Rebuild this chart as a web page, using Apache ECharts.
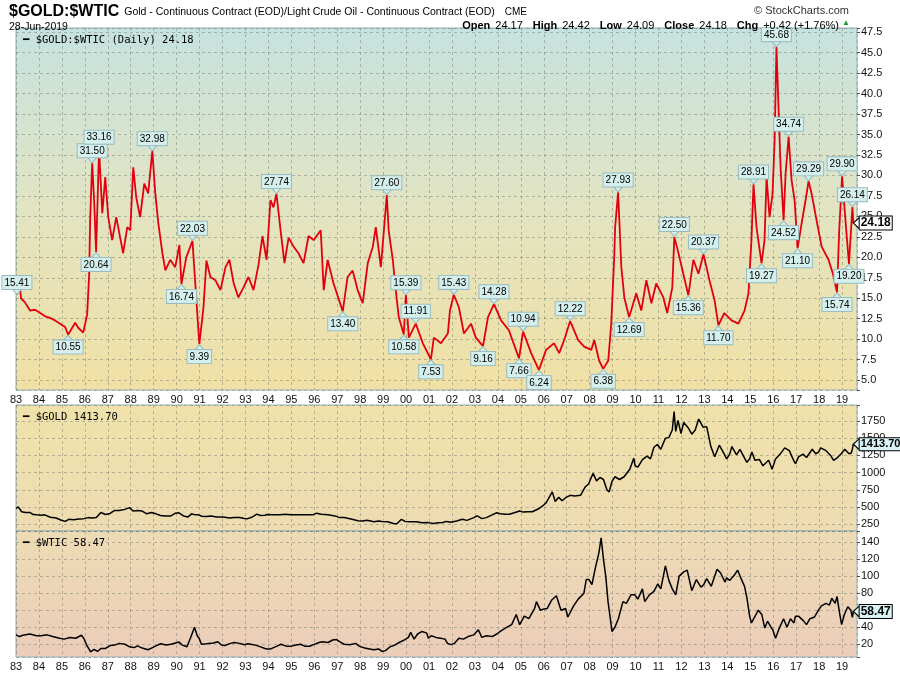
<!DOCTYPE html>
<html>
<head>
<meta charset="utf-8">
<title>$GOLD:$WTIC</title>
<script src="https://cdn.jsdelivr.net/npm/echarts@6/dist/echarts.min.js"></script>
<style>
  html, body { margin: 0; padding: 0; background: #fff; }
  #chart { width: 900px; height: 673px; }
</style>
</head>
<body>
<div id="chart"></div>
<script>
  // gold / crude ratio (decimal years)
  var ratioT = [
    1983.04,1983.13,1983.22,1983.39,1983.61,1983.83,1984.05,1984.27,1984.48,1984.70,1984.92,1985.14,1985.27,1985.45,1985.58,1985.71,1985.93,
    1986.10,1986.19,1986.23,1986.32,1986.41,1986.49,1986.62,1986.76,1986.89,1987.02,1987.19,1987.37,1987.54,1987.67,1987.85,1987.98,
    1988.11,1988.24,1988.41,1988.59,1988.76,1988.94,1989.07,1989.20,1989.38,1989.51,1989.72,1989.94,
    1990.12,1990.21,1990.42,1990.69,1990.86,1990.99,1991.17,1991.30,1991.47,1991.69,1991.91,
    1992.13,1992.30,1992.48,1992.69,1992.91,1993.13,1993.35,1993.57,1993.74,1993.92,
    1994.09,1994.22,1994.35,1994.53,1994.70,1994.88,1995.10,1995.31,1995.53,1995.75,1995.97,
    1996.28,1996.41,1996.58,1996.84,1997.24,1997.45,1997.67,1997.89,1998.11,1998.33,1998.55,1998.68,1998.90,
    1999.16,1999.24,1999.42,1999.55,1999.68,1999.90,1999.99,2000.12,2000.42,2000.73,2001.08,2001.21,2001.52,2001.82,2001.91,
    2002.08,2002.30,2002.52,2002.83,2003.04,2003.35,2003.57,2003.83,2004.14,2004.48,2004.92,2005.10,2005.45,2005.79,
    2006.10,2006.45,2006.67,2006.89,2007.15,2007.50,2007.76,2008.07,2008.20,2008.41,2008.59,2008.81,2008.94,
    2009.07,2009.11,2009.24,2009.38,2009.51,2009.72,2010.03,2010.25,2010.47,2010.69,2010.90,2011.21,2011.38,2011.60,2011.69,2011.87,
    2012.08,2012.30,2012.52,2012.74,2012.96,2013.22,2013.44,2013.61,2013.87,2014.18,2014.48,2014.75,2014.92,
    2015.05,2015.14,2015.27,2015.49,2015.62,2015.71,2015.84,2015.97,2016.06,2016.14,2016.23,2016.32,2016.45,2016.54,2016.67,2016.80,2016.93,
    2017.06,2017.24,2017.41,2017.54,2017.67,2017.89,2018.11,2018.41,2018.60,2018.78,2018.87,2019.00,2019.17,2019.30,2019.45,2019.49
  ];
  var ratio = [
    15.41,17.5,15.0,14.5,13.5,13.6,13.2,12.8,12.6,12.3,11.9,11.5,10.55,11.4,12.0,11.4,10.8,
    13.0,18.0,24.5,31.5,26.6,20.64,33.16,25.4,29.8,24.9,22.1,24.9,22.4,20.5,23.7,23.3,
    31.0,27.3,24.9,29.0,27.8,32.98,27.8,24.2,20.5,18.4,19.7,18.8,
    21.5,16.74,20.0,22.03,14.8,9.39,13.9,19.6,17.6,17.2,16.0,
    18.8,19.7,16.9,15.1,16.3,17.6,16.0,19.1,22.6,19.7,
    27.0,26.1,27.74,23.3,19.3,22.4,21.3,20.5,19.3,22.6,22.1,
    23.3,16.0,19.7,16.8,13.4,17.6,18.4,16.0,14.4,19.3,21.3,23.7,18.8,
    27.6,23.3,19.7,16.0,12.7,10.58,15.39,10.2,11.91,9.5,7.53,10.2,9.5,10.7,13.5,
    15.43,13.9,10.7,11.9,10.2,9.16,12.7,14.28,12.3,11.1,7.66,10.94,8.3,6.24,
    8.7,9.5,8.3,9.9,12.22,9.9,9.1,8.7,9.9,7.4,6.38,7.4,11.9,
    20.0,23.7,27.93,18.8,15.1,12.69,15.6,13.5,17.2,14.4,16.8,15.1,13.2,16.3,22.5,20.5,
    18.0,15.36,19.7,18.0,20.37,17.2,14.8,11.7,13.2,12.3,11.9,13.5,15.6,
    22.1,28.91,23.7,19.27,22.1,29.8,24.9,27.8,34.3,45.68,38.3,31.0,24.52,30.3,34.74,29.4,27.0,
    21.1,24.2,27.0,29.29,27.8,24.5,21.3,19.7,18.0,15.74,23.0,29.9,23.7,19.2,26.14,24.18
  ];
  // annotated turning points (label above / below the line)
  var highNotes = [15.41, 31.5, 33.16, 32.98, 22.03, 27.74, 27.6, 15.39, 11.91, 15.43, 14.28, 10.94,
                   12.22, 27.93, 22.5, 20.37, 28.91, 45.68, 34.74, 29.29, 29.9, 26.14];
  var lowNotes = [10.55, 20.64, 16.74, 9.39, 13.4, 10.58, 7.53, 9.16, 7.66, 6.24, 6.38, 12.69,
                  15.36, 11.7, 19.27, 24.52, 21.1, 15.74, 19.2];

  var goldT = [1983.0,1983.1,1983.25,1983.4,1983.6,1983.75,1983.9, 1984.1,1984.25,1984.5,1984.75,1984.95,
    1985.15,1985.3,1985.5,1985.75,1985.95, 1986.15,1986.3,1986.5,1986.7,1986.9, 1987.1,1987.3,1987.5,1987.75,1987.95,
    1988.1,1988.3,1988.5,1988.7,1988.9, 1989.1,1989.3,1989.5,1989.75,1989.95, 1990.1,1990.3,1990.5,1990.65,1990.8,1990.95,
    1991.1,1991.3,1991.5,1991.75,1991.95, 1992.1,1992.3,1992.5,1992.75,1992.95, 1993.1,1993.3,1993.5,1993.65,1993.85,1993.95,
    1994.2,1994.5,1994.75,1994.95, 1995.2,1995.5,1995.75,1995.95, 1996.1,1996.3,1996.6,1996.9, 1997.1,1997.3,1997.6,1997.9,
    1998.1,1998.3,1998.6,1998.8,1998.95, 1999.2,1999.45,1999.6,1999.8,1999.95, 2000.2,2000.45,2000.7,2000.95,
    2001.2,2001.4,2001.6,2001.75,2001.95, 2002.2,2002.45,2002.65,2002.95, 2003.1,2003.3,2003.5,2003.75,2003.95,
    2004.1,2004.3,2004.5,2004.75,2004.95, 2005.1,2005.3,2005.5,2005.75,2005.95, 2006.1,2006.37,2006.5,2006.65,2006.8,2006.95,
    2007.15,2007.35,2007.6,2007.8,2007.95, 2008.15,2008.3,2008.45,2008.6,2008.75,2008.85,2008.97,
    2009.1,2009.3,2009.5,2009.75,2009.92,2009.98, 2010.1,2010.3,2010.5,2010.65,2010.8,2010.95,
    2011.1,2011.3,2011.45,2011.6,2011.68,2011.75,2011.85,2011.98, 2012.1,2012.3,2012.45,2012.6,2012.75,2012.95,
    2013.1,2013.28,2013.45,2013.5,2013.65,2013.8,2013.97, 2014.1,2014.2,2014.4,2014.55,2014.75,2014.85,2014.97,
    2015.07,2015.2,2015.4,2015.55,2015.8,2015.95, 2016.1,2016.3,2016.5,2016.7,2016.9,2016.97,
    2017.1,2017.3,2017.45,2017.7,2017.85,2017.97, 2018.07,2018.3,2018.5,2018.63,2018.8,2018.97,
    2019.12,2019.3,2019.4,2019.45,2019.49];
  var gold = [480,500,430,420,420,390,385, 380,385,350,340,310,
    290,320,315,325,330, 345,340,345,420,390, 405,450,450,465,490,
    440,450,440,400,420, 400,375,370,370,410, 415,370,355,400,385,385,
    365,360,370,355,355, 350,340,345,345,333, 330,355,395,375,380,390,
    385,385,395,385, 385,387,385,388, 410,395,385,370, 345,345,325,300,
    295,305,285,295,288, 285,260,255,320,290, 285,285,270,272,
    260,270,275,290,278, 295,320,305,345, 370,330,345,385,415,
    400,395,395,420,440, 425,430,430,470,515, 560,720,580,640,590,635,
    670,660,670,790,835, 990,880,930,900,750,720,870,
    940,900,940,1050,1210,1100, 1080,1190,1240,1200,1370,1410,
    1340,1500,1510,1620,1890,1600,1760,1570, 1730,1650,1560,1620,1780,1660,
    1670,1380,1230,1210,1400,1310,1200, 1270,1380,1260,1340,1210,1150,1200,
    1300,1180,1190,1100,1180,1050, 1200,1270,1360,1320,1170,1130,
    1230,1270,1220,1340,1275,1300, 1360,1320,1250,1180,1220,1280,
    1340,1275,1285,1345,1413.7];

  var oilT = [1983.0,1983.15,1983.3,1983.6,1983.9, 1984.1,1984.35,1984.6,1984.9, 1985.1,1985.35,1985.6,1985.85,1985.95,
    1986.1,1986.25,1986.4,1986.55,1986.7,1986.9, 1987.1,1987.3,1987.5,1987.75,1987.95, 1988.15,1988.3,1988.5,1988.75,1988.95,
    1989.1,1989.3,1989.55,1989.75,1989.95, 1990.1,1990.25,1990.45,1990.6,1990.78,1990.9,1990.98,
    1991.08,1991.3,1991.6,1991.8,1991.95, 1992.1,1992.35,1992.5,1992.75,1992.95, 1993.1,1993.35,1993.6,1993.85,1993.95,
    1994.1,1994.35,1994.55,1994.8,1994.95, 1995.2,1995.4,1995.6,1995.8,1995.97, 1996.2,1996.35,1996.6,1996.8,1996.97,
    1997.1,1997.3,1997.55,1997.8,1997.97, 1998.2,1998.4,1998.6,1998.8,1998.95, 1999.1,1999.3,1999.5,1999.7,1999.95,
    2000.1,2000.2,2000.35,2000.5,2000.7,2000.9,2000.97, 2001.1,2001.3,2001.5,2001.7,2001.8,2001.95,
    2002.1,2002.3,2002.5,2002.7,2002.95, 2003.15,2003.3,2003.5,2003.75,2003.95, 2004.15,2004.4,2004.6,2004.8,2004.95,
    2005.15,2005.35,2005.6,2005.68,2005.85,2005.97, 2006.15,2006.35,2006.55,2006.75,2006.95,
    2007.05,2007.3,2007.5,2007.75,2007.85,2007.97, 2008.1,2008.25,2008.4,2008.5,2008.6,2008.7,2008.8,2008.9,2008.97,
    2009.1,2009.25,2009.45,2009.6,2009.8,2009.97, 2010.1,2010.3,2010.4,2010.6,2010.8,2010.97,
    2011.1,2011.3,2011.45,2011.6,2011.75,2011.9,2011.97, 2012.1,2012.25,2012.45,2012.65,2012.85,2012.97,
    2013.1,2013.3,2013.55,2013.7,2013.9,2013.97, 2014.1,2014.3,2014.45,2014.6,2014.75,2014.85,2014.97,
    2015.05,2015.15,2015.35,2015.5,2015.63,2015.75,2015.9,2015.98, 2016.1,2016.25,2016.45,2016.6,2016.75,2016.9,2016.97,
    2017.1,2017.3,2017.45,2017.6,2017.8,2017.97, 2018.1,2018.3,2018.45,2018.55,2018.7,2018.78,2018.9,2018.98,
    2019.1,2019.25,2019.32,2019.38,2019.45,2019.49];
  var oil = [31,29,30.5,32,30, 30,31,29,27, 26,28,27,30.5,27,
    18,11,14,11.5,15,15, 18.5,19,21,20,17, 16,18,15.5,13.5,16,
    18,20.5,19,20,21.5, 22.5,19,17,27,40,30,27,
    20,20.5,21.5,23,19, 18.5,21,22,21,19.5, 20.5,19.5,17.5,15,14.5,
    14.5,17.5,20,17.5,17.5, 19,20,17.5,17.7,19.5, 22,23,22,25,25.5,
    23,20,19.5,21,17.5, 15.5,14.5,13.5,14.5,11.5, 12.5,17,19,22,25.5,
    28,34,26,32,35,33,27, 30,28,27,26,21,19.5,
    21,27,26,29,31, 37,28,30,29,32, 36,40,43,55,43,
    53,50,62,70,60,61, 62,72,77,60,62,
    52,65,73,80,96,96, 90,110,127,145,120,100,70,50,35,
    40,50,70,68,78,78, 73,85,70,78,82,91,
    85,112,95,85,78,100,98, 105,107,83,96,87,90,
    97,88,108,104,93,98, 95,101,107,97,88,75,53,
    45,50,60,55,39,47,40,37, 27,38,50,40,50,45,53,
    53,48,43,50,52,60, 65,68,66,74,68,76,55,43,
    55,64,66,60,51.5,58.47];

  var FONT = 'Liberation Sans, Arial, sans-serif';
  var MONO = 'DejaVu Sans Mono, monospace';

  function pairs(t, v) {
    return t.map(function (x, i) { return [x, v[i]]; });
  }
  function isStep(v, step) {
    return Math.abs(v / step - Math.round(v / step)) < 1e-6;
  }
  function bg(stops) {
    return new echarts.graphic.LinearGradient(0, 0, 0, 1, stops.map(function (c, i) {
      return { offset: i / (stops.length - 1), color: c };
    }));
  }

  var dashed = { show: true, lineStyle: { color: 'rgba(105,110,100,0.42)', type: [3, 3], width: 1 } };

  function xAxis(idx, showLabel) {
    return {
      type: 'value', gridIndex: idx, min: 1983, max: 2019.65,
      minInterval: 1, maxInterval: 1,
      axisLine: { show: false }, axisTick: { show: false },
      axisLabel: {
        show: showLabel, color: '#111', fontSize: 11, fontFamily: FONT, margin: 4,
        formatter: function (v) {
          if (!isStep(v, 1)) return '';
          var n = Math.round(v) % 100;
          return (n < 10 ? '0' : '') + n;
        }
      },
      splitLine: dashed
    };
  }
  function yAxis(idx, min, max, step, digits) {
    return {
      type: 'value', gridIndex: idx, position: 'right', min: min, max: max,
      minInterval: step, maxInterval: step,
      axisLine: { show: false },
      axisTick: { show: true, length: 3, lineStyle: { color: '#555' } },
      axisLabel: {
        color: '#111', fontSize: 11, fontFamily: FONT, margin: 4,
        formatter: function (v) { return isStep(v, step) ? v.toFixed(digits) : ''; }
      },
      splitLine: dashed
    };
  }

  var noteStyle = {
    show: true, formatter: '{b}', fontSize: 10, fontFamily: FONT, color: '#000',
    backgroundColor: '#d5efed', borderColor: '#98bcc1', borderWidth: 1, padding: [2, 2, 1, 2]
  };
  function note(v, above) {
    var i = ratio.indexOf(v);
    return {
      coord: [ratioT[i], v], name: v.toFixed(2),
      symbol: 'triangle', symbolSize: [9, 5],
      symbolRotate: above ? 180 : 0,
      symbolOffset: [0, above ? -3 : 3],
      label: { position: above ? 'top' : 'bottom', distance: 0 }
    };
  }
  function lastTag(t, v, fill, size) {
    var i = t.length - 1;
    return {
      coord: [t[i], v[i]], name: v[i].toFixed(2),
      symbol: 'triangle', symbolSize: [11, 6], symbolRotate: 90, symbolOffset: [3, 0],
      itemStyle: { color: fill, borderColor: '#000', borderWidth: 1 },
      label: {
        show: true, formatter: '{b}', position: 'right', distance: 0,
        fontSize: size, fontWeight: 'bold', fontFamily: FONT, color: '#000',
        backgroundColor: fill, borderColor: '#000', borderWidth: 1, padding: [1, 1, 0, 1]
      }
    };
  }

  var chart = echarts.init(document.getElementById('chart'));
  chart.setOption({
    animation: false,
    backgroundColor: '#ffffff',
    title: [
      {
        left: 4, top: -2,
        text: '{a|$GOLD:$WTIC} {b|Gold - Continuous Contract (EOD)/Light Crude Oil - Continuous Contract (EOD)}  {c|CME}',
        textStyle: {
          rich: {
            a: { fontSize: 16, fontWeight: 'bold', fontFamily: FONT, color: '#000' },
            b: { fontSize: 10.5, fontWeight: 'normal', fontFamily: FONT, color: '#000' },
            c: { fontSize: 10, fontWeight: 'normal', fontFamily: FONT, color: '#000' }
          }
        }
      },
      { left: 4, top: 17, text: '28-Jun-2019', textStyle: { fontSize: 10.5, fontWeight: 'normal', fontFamily: FONT, color: '#000' } },
      { right: 46, top: 0, text: '\u00a9 StockCharts.com', textStyle: { fontSize: 11, fontWeight: 'normal', fontFamily: FONT, color: '#333' } },
      {
        right: 56, top: 12,
        text: '{k|Open} {v|24.17}  {k|High} {v|24.42}  {k|Low} {v|24.09}  {k|Close} {v|24.18}  {k|Chg} {v|+0.42 (+1.76%)}',
        textStyle: {
          rich: {
            k: { fontSize: 11, fontWeight: 'bold', fontFamily: FONT, color: '#000' },
            v: { fontSize: 11, fontWeight: 'normal', fontFamily: FONT, color: '#000' }
          }
        }
      },
      { right: 45, top: 14, text: '\u25b2', textStyle: { fontSize: 8, fontWeight: 'normal', color: '#1f9a3a' } },
      { left: 18, top: 30, text: '\u2501 $GOLD:$WTIC (Daily) 24.18', textStyle: { fontSize: 10.5, fontWeight: 'normal', fontFamily: MONO, color: '#000' } },
      { left: 18, top: 407, text: '\u2501 $GOLD 1413.70', textStyle: { fontSize: 10.5, fontWeight: 'normal', fontFamily: MONO, color: '#000' } },
      { left: 18, top: 533, text: '\u2501 $WTIC 58.47', textStyle: { fontSize: 10.5, fontWeight: 'normal', fontFamily: MONO, color: '#000' } }
    ],
    grid: [
      { left: 16, right: 43, top: 28, height: 362, show: true, borderColor: '#8fb1b7', borderWidth: 1,
        backgroundColor: bg(['#c6e2df', '#e2e4c2', '#f1e0a4']) },
      { left: 16, right: 43, top: 405, height: 126, show: true, borderColor: '#8fb1b7', borderWidth: 1,
        backgroundColor: bg(['#f0e2aa', '#eedbb2']) },
      { left: 16, right: 43, top: 531, height: 126, show: true, borderColor: '#8fb1b7', borderWidth: 1,
        backgroundColor: bg(['#eedbb4', '#ebcdb9']) }
    ],
    xAxis: [xAxis(0, true), xAxis(1, false), xAxis(2, true)],
    yAxis: [
      yAxis(0, 3.8, 48.0, 2.5, 1),
      yAxis(1, 150, 1985, 250, 0),
      yAxis(2, 5, 153, 20, 0)
    ],
    series: [
      {
        name: '$GOLD:$WTIC', type: 'line', xAxisIndex: 0, yAxisIndex: 0,
        data: pairs(ratioT, ratio), showSymbol: false, z: 3,
        lineStyle: { color: '#e3000e', width: 1.8 },
        markPoint: {
          itemStyle: { color: '#d5efed', borderColor: '#98bcc1', borderWidth: 1 },
          label: noteStyle,
          data: highNotes.map(function (v) { return note(v, true); })
            .concat(lowNotes.map(function (v) { return note(v, false); }))
            .concat([lastTag(ratioT, ratio, '#ffffff', 12)])
        }
      },
      {
        name: '$GOLD', type: 'line', xAxisIndex: 1, yAxisIndex: 1,
        data: pairs(goldT, gold), showSymbol: false,
        lineStyle: { color: '#000', width: 1.5 },
        markPoint: { data: [lastTag(goldT, gold, '#d8f4f4', 11)] }
      },
      {
        name: '$WTIC', type: 'line', xAxisIndex: 2, yAxisIndex: 2,
        data: pairs(oilT, oil), showSymbol: false,
        lineStyle: { color: '#000', width: 1.5 },
        markPoint: { data: [lastTag(oilT, oil, '#d8f4f4', 12)] }
      }
    ]
  });
</script>
</body>
</html>
